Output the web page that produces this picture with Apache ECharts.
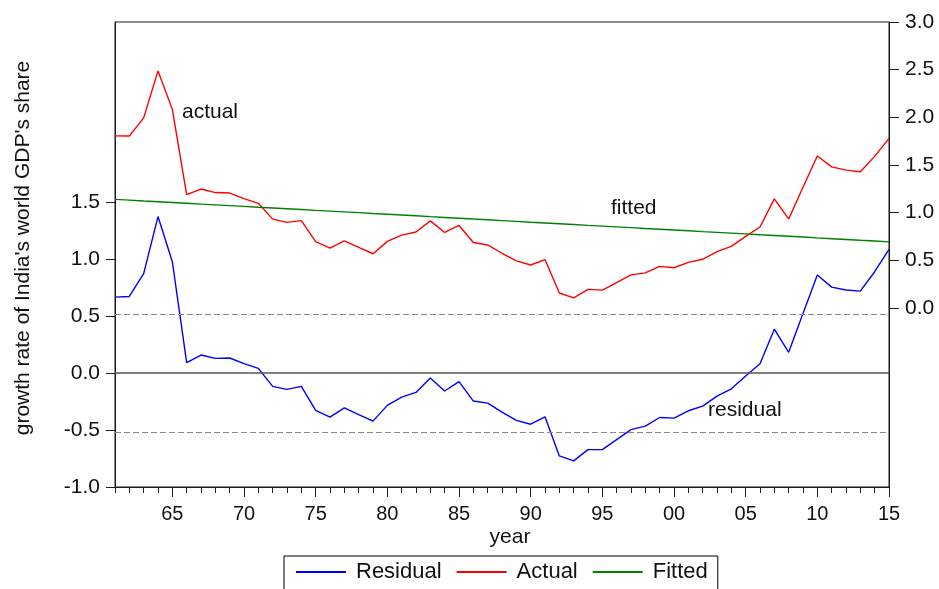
<!DOCTYPE html>
<html><head><meta charset="utf-8">
<script src="https://cdn.jsdelivr.net/npm/echarts@6/dist/echarts.min.js"></script>
<style>html,body{margin:0;padding:0;background:#fff}#c{width:939px;height:589px}</style>
</head><body><div id="c"></div>
<script>
const years = ['1961','1962','1963','1964','1965','1966','1967','1968','1969','1970',
  '1971','1972','1973','1974','1975','1976','1977','1978','1979','1980',
  '1981','1982','1983','1984','1985','1986','1987','1988','1989','1990',
  '1991','1992','1993','1994','1995','1996','1997','1998','1999','2000',
  '2001','2002','2003','2004','2005','2006','2007','2008','2009','2010',
  '2011','2012','2013','2014','2015'];
const residual = [0.666,0.672,0.872,1.373,0.977,0.091,0.158,0.129,0.132,0.082,
  0.041,-0.117,-0.143,-0.117,-0.328,-0.387,-0.305,-0.364,-0.422,-0.284,
  -0.211,-0.170,-0.044,-0.158,-0.076,-0.246,-0.264,-0.343,-0.415,-0.449,
  -0.384,-0.727,-0.771,-0.672,-0.672,-0.584,-0.496,-0.466,-0.390,-0.396,
  -0.331,-0.290,-0.202,-0.138,-0.026,0.082,0.385,0.182,0.523,0.860,
  0.754,0.728,0.719,0.889,1.086];
const actual = [1.805,1.803,1.994,2.487,2.083,1.189,1.247,1.210,1.205,1.147,
  1.097,0.931,0.897,0.915,0.695,0.628,0.702,0.635,0.568,0.698,
  0.763,0.796,0.913,0.791,0.865,0.686,0.660,0.573,0.493,0.450,
  0.507,0.156,0.104,0.194,0.186,0.266,0.346,0.367,0.435,0.421,
  0.478,0.510,0.590,0.646,0.750,0.849,1.144,0.933,1.266,1.594,
  1.480,1.446,1.428,1.590,1.779];
const fitted = [1.139,1.131,1.122,1.114,1.106,1.098,1.089,1.081,1.073,1.065,
  1.056,1.048,1.040,1.032,1.023,1.015,1.007,0.999,0.990,0.982,
  0.974,0.966,0.957,0.949,0.941,0.932,0.924,0.916,0.908,0.899,
  0.891,0.883,0.875,0.866,0.858,0.850,0.842,0.833,0.825,0.817,
  0.809,0.800,0.792,0.784,0.776,0.767,0.759,0.751,0.743,0.734,
  0.726,0.718,0.709,0.701,0.693];
const leftTicks = [-1.0,-0.5,0.0,0.5,1.0,1.5];
const rightTicks = [0.0,0.5,1.0,1.5,2.0,2.5,3.0];
const residualSE = 0.52;
const seriesNames = ['Residual','Actual','Fitted'];

const FONT = 'Liberation Sans, Arial, Helvetica, sans-serif';
const chart = echarts.init(document.getElementById('c'), null, {renderer:'canvas'});
const isMajor = (i, v) => Number(v) % 5 === 0;

chart.setOption({
  animation: false,
  backgroundColor: '#fff',
  textStyle: {fontFamily: FONT},
  grid: {left: 115, right: 50, top: 22, bottom: 102, show: true, borderColor: '#1a1a1a', borderWidth: 1, backgroundColor: 'transparent'},
  legend: {
    data: seriesNames, left: 284, top: 556,
    padding: [5, 10, 30, 12],
    borderColor: '#000', borderWidth: 1,
    icon: 'rect', itemWidth: 50, itemHeight: 2, itemGap: 15,
    textStyle: {fontSize: 22, color: '#111', fontFamily: FONT, padding: [0,0,0,5]}
  },
  xAxis: [
    {type: 'category', data: years, boundaryGap: false, position: 'bottom',
     axisLine: {show: true, onZero: false, lineStyle: {color: '#1a1a1a', width: 1}},
     axisTick: {show: true, interval: isMajor, length: 10, lineStyle: {color: '#1a1a1a'}},
     axisLabel: {interval: isMajor, formatter: v => v.slice(2), fontSize: 20, color: '#111', margin: 17, fontFamily: FONT},
     splitLine: {show: false}
    },
    {type: 'category', data: years, boundaryGap: false, position: 'bottom', offset: 0,
     axisLine: {show: false, onZero: false},
     axisTick: {show: true, interval: 0, length: 6, lineStyle: {color: '#1a1a1a'}},
     axisLabel: {show: false}, splitLine: {show: false}
    }
  ],
  yAxis: [
    {type: 'value', min: -1, max: 3.08, position: 'left',
     axisLine: {show: true, onZero: false, lineStyle: {color: '#1a1a1a', width: 1}},
     axisTick: {show: true, customValues: leftTicks, length: 9, lineStyle: {color: '#1a1a1a'}},
     axisLabel: {customValues: leftTicks, formatter: v => v.toFixed(1), fontSize: 21, color: '#111', margin: 15, fontFamily: FONT},
     splitLine: {show: false}
    },
    {type: 'value', min: -1.88, max: 3.0, position: 'right',
     axisLine: {show: true, onZero: false, lineStyle: {color: '#1a1a1a', width: 1}},
     axisTick: {show: true, customValues: rightTicks, length: 10, lineStyle: {color: '#1a1a1a'}},
     axisLabel: {customValues: rightTicks, formatter: v => v.toFixed(1), fontSize: 21, color: '#111', margin: 16, fontFamily: FONT},
     splitLine: {show: false}
    }
  ],
  graphic: [
    {type: 'text', x: 23, y: 248, rotation: Math.PI/2,
     style: {text: "growth rate of India's world GDP's share", fontSize: 21, fontFamily: FONT, fill: '#111', align: 'center', verticalAlign: 'middle'}},
    {type: 'text', x: 510, y: 537,
     style: {text: 'year', fontSize: 21, fontFamily: FONT, fill: '#111', align: 'center', verticalAlign: 'middle'}},
    {type: 'text', x: 182, y: 112,
     style: {text: 'actual', fontSize: 21, fontFamily: FONT, fill: '#111', align: 'left', verticalAlign: 'middle'}},
    {type: 'text', x: 611, y: 208,
     style: {text: 'fitted', fontSize: 21, fontFamily: FONT, fill: '#111', align: 'left', verticalAlign: 'middle'}},
    {type: 'text', x: 708, y: 410,
     style: {text: 'residual', fontSize: 21, fontFamily: FONT, fill: '#111', align: 'left', verticalAlign: 'middle'}}
  ],
  series: [
    {name: 'Residual', type: 'line', data: residual, xAxisIndex: 0, yAxisIndex: 0,
     showSymbol: false, symbol: 'none', lineStyle: {color: '#0000ff', width: 1.4}, itemStyle: {color: '#0000ff'}, z: 3,
     markLine: {silent: true, symbol: 'none', label: {show: false},
       data: [
         {yAxis: 0, lineStyle: {color: '#555', width: 1.5, type: 'solid'}},
         {yAxis: residualSE, lineStyle: {color: '#8a8a8a', width: 1, type: [6, 3]}},
         {yAxis: -residualSE, lineStyle: {color: '#8a8a8a', width: 1, type: [6, 3]}}
       ]}
    },
    {name: 'Actual', type: 'line', data: actual, xAxisIndex: 0, yAxisIndex: 1,
     showSymbol: false, symbol: 'none', lineStyle: {color: '#ff0000', width: 1.4}, itemStyle: {color: '#ff0000'}, z: 3},
    {name: 'Fitted', type: 'line', data: fitted, xAxisIndex: 0, yAxisIndex: 1,
     showSymbol: false, symbol: 'none', lineStyle: {color: '#008000', width: 1.4}, itemStyle: {color: '#008000'}, z: 3}
  ]
});
</script>
</body></html>
